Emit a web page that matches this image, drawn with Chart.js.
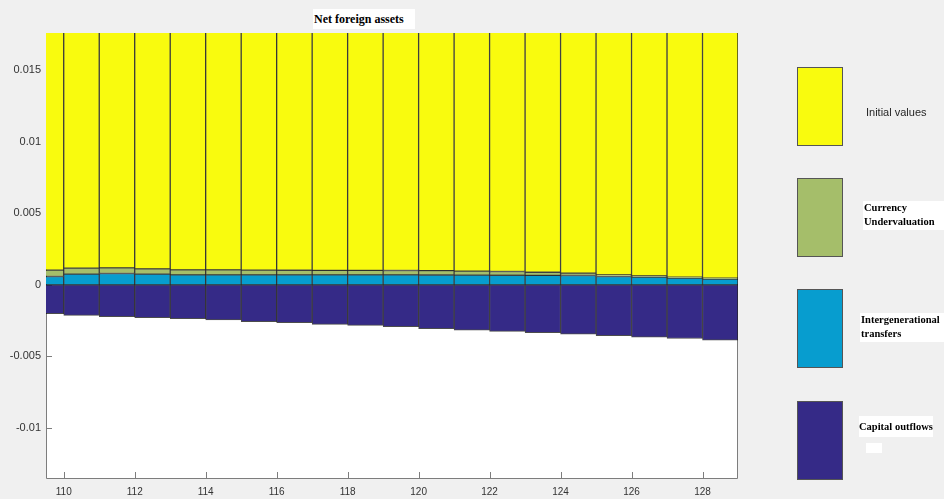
<!DOCTYPE html>
<html>
<head>
<meta charset="utf-8">
<script src="https://cdn.jsdelivr.net/npm/chart.js@4.4.1/dist/chart.umd.min.js"></script>
<style>
body{margin:0;background:#f0f0f0;}
#wrap{position:relative;width:944px;height:499px;overflow:hidden;}
canvas{position:absolute;left:0;top:0;}
.txt{position:absolute;background:#fff;font:bold 10.5px "Liberation Serif","Times New Roman",serif;color:#000;line-height:13.7px;white-space:nowrap;overflow:hidden;}
.sw{position:absolute;left:797px;width:46px;height:79px;border:1px solid #555;box-sizing:border-box;}
</style>
</head>
<body>
<div id="wrap">
<canvas id="graphics" width="944" height="499"></canvas>
<div class="txt" style="left:313px;top:9px;width:102px;height:20px;font-size:12px;line-height:20px;padding-left:1px;box-sizing:border-box;">Net foreign assets</div>

<div class="sw" style="top:67px;background:#f9fb0e;"></div>
<div style="position:absolute;left:866px;top:106px;font:11px 'Liberation Sans',Arial,sans-serif;color:#262626;">Initial values</div>

<div class="sw" style="top:178px;background:#a5be6a;"></div>
<div class="txt" style="left:863px;top:201px;width:81px;height:29px;padding-left:1px;">Currency<br>Undervaluation</div>

<div class="sw" style="top:289px;background:#079dcf;"></div>
<div class="txt" style="left:860px;top:313px;width:84px;height:29px;padding-left:1px;">Intergenerational<br>transfers</div>

<div class="sw" style="top:401px;background:#352a87;"></div>
<div class="txt" style="left:859px;top:416px;width:74px;height:21px;line-height:21px;">Capital outflows</div>
<div style="position:absolute;left:866px;top:443px;width:16px;height:10px;background:#fff;"></div>
</div>
<script>
// periods on the x axis (bar k covers k .. k+1)
const periods = [109,110,111,112,113,114,115,116,117,118,119,120,121,122,123,124,125,126,127,128];
const capitalOutflows = [-0.00202,-0.00214,-0.00223,-0.0023,-0.00237,-0.00246,-0.00257,-0.00265,-0.00276,-0.00283,
                         -0.00293,-0.00306,-0.00316,-0.00325,-0.00335,-0.00345,-0.00356,-0.00365,-0.00375,-0.00386];
const intergenerational = [0.00058,0.00075,0.00079,0.00075,0.0007,0.0007,0.0007,0.0007,0.0007,0.0007,
                           0.0007,0.00069,0.00068,0.00067,0.00066,0.00065,0.00058,0.00054,0.00047,0.0004];
const currencyUnderval = [0.00045,0.00042,0.0004,0.00037,0.00035,0.00035,0.00033,0.00032,0.00031,0.00031,
                          0.0003,0.0003,0.00028,0.00026,0.00022,0.00017,0.00012,0.00009,0.00007,0.00007];
const initialValues = [0.0175,0.0175,0.0175,0.0175,0.0175,0.0175,0.0175,0.0175,0.0175,0.0175,
                       0.0175,0.0175,0.0175,0.0175,0.0175,0.0175,0.0175,0.0175,0.0175,0.0175];
const xTicks = [110,112,114,116,118,120,122,124,126,128];
const yTicks = [-0.01,-0.005,0,0.005,0.01,0.015];

const toPoints = vals => vals.map((v, i) => ({x: periods[i] + 0.5, y: v}));

const edge = 'rgba(0,0,0,0.7)';
const mkSet = (label, vals, color) => ({
    label: label,
    data: toPoints(vals),
    backgroundColor: color,
    borderColor: edge,
    borderWidth: 1,
    borderSkipped: false,
    barPercentage: 1,
    categoryPercentage: 1,
    clip: 0
});

const plotFrame = {
    id: 'plotFrame',
    beforeDatasetsDraw(chart) {
        const ctx = chart.ctx, a = chart.chartArea;
        ctx.save();
        ctx.fillStyle = '#fff';
        ctx.fillRect(a.left, a.top, a.right - a.left, a.bottom - a.top);
        ctx.strokeStyle = '#7d7d7d';
        ctx.lineWidth = 1;
        ctx.beginPath();
        ctx.moveTo(a.left + 0.5, a.top);
        ctx.lineTo(a.left + 0.5, a.bottom + 0.5);
        ctx.lineTo(a.right - 0.5, a.bottom + 0.5);
        ctx.lineTo(a.right - 0.5, a.top);
        yTicks.forEach(v => {
            const y = Math.round(chart.scales.y.getPixelForValue(v)) + 0.5;
            ctx.moveTo(a.left, y); ctx.lineTo(a.left + 6, y);
        });
        xTicks.forEach(v => {
            const x = Math.round(chart.scales.x.getPixelForValue(v)) + 0.5;
            ctx.moveTo(x, a.bottom); ctx.lineTo(x, a.bottom - 6);
        });
        ctx.stroke();
        ctx.restore();
    }
};

new Chart(document.getElementById('graphics'), {
    type: 'bar',
    data: {
        datasets: [
            mkSet('Capital outflows', capitalOutflows, '#352a87'),
            mkSet('Intergenerational transfers', intergenerational, '#079dcf'),
            mkSet('Currency Undervaluation', currencyUnderval, '#a5be6a'),
            mkSet('Initial values', initialValues, '#f9fb0e')
        ]
    },
    options: {
        responsive: false,
        devicePixelRatio: 1,
        animation: false,
        layout: {padding: {top: 33, right: 206, left: 0, bottom: 0}},
        plugins: {legend: {display: false}, title: {display: false}, tooltip: {enabled: false}},
        scales: {
            x: {
                type: 'linear', stacked: true, offset: false,
                min: 109.5, max: 129,
                grid: {display: false, drawTicks: false},
                border: {display: false},
                afterBuildTicks: s => { s.ticks = xTicks.map(v => ({value: v})); },
                afterFit: s => { s.height = 21; },
                ticks: {padding: 8, color: '#333', font: {family: 'Liberation Sans', size: 10}, maxRotation: 0}
            },
            y: {
                stacked: true,
                min: -0.0135, max: 0.0176,
                grid: {display: false, drawTicks: false},
                border: {display: false},
                afterBuildTicks: s => { s.ticks = yTicks.map(v => ({value: v})); },
                afterFit: s => { s.width = 46; },
                ticks: {padding: 5, color: '#333', font: {family: 'Liberation Sans', size: 11},
                        callback: v => String(+(+v).toFixed(4))}
            }
        }
    },
    plugins: [plotFrame]
});
</script>
</body>
</html>
